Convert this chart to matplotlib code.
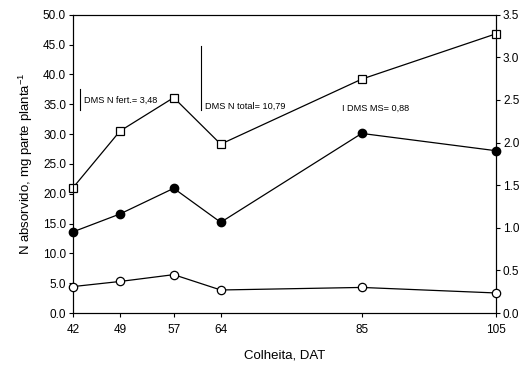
import matplotlib
matplotlib.use("Agg")
import matplotlib.pyplot as plt

plt.rcParams['font.family'] = ['Liberation Sans', 'DejaVu Sans']
plt.rcParams['mathtext.fontset'] = 'custom'
plt.rcParams['mathtext.rm'] = 'Liberation Sans'

dat = [42, 49, 57, 64, 85, 105]
n_total = [21.0, 30.5, 36.1, 28.3, 39.2, 46.8]
n_fert = [13.6, 16.6, 20.9, 15.2, 30.1, 27.2]
ms = [0.31, 0.37, 0.45, 0.27, 0.30, 0.235]

fig = plt.figure(figsize=(5.29, 3.68), dpi=100)
ax = fig.add_axes([73/529, 1 - 313/368, (496 - 73)/529, (313 - 14.7)/368])
ax2 = ax.twinx()

ax.plot(dat, n_total, color='black', lw=0.9, marker='s', ms=5.5, mfc='white', mec='black', mew=0.9, zorder=3, clip_on=False)
ax.plot(dat, n_fert, color='black', lw=0.9, marker='o', ms=6, mfc='black', mec='black', zorder=3, clip_on=False)
ax2.plot(dat, ms, color='black', lw=0.9, marker='o', ms=6, mfc='white', mec='black', mew=0.9, zorder=3, clip_on=False)

ax.set_xlim(42, 105)
ax.set_ylim(0, 50)
ax2.set_ylim(0, 3.5)
ax.set_xticks(dat)
ax.set_yticks([i * 5 for i in range(11)])
ax.set_yticklabels([f"{i*5:.1f}" for i in range(11)])
ax2.set_yticks([i * 0.5 for i in range(8)])
ax2.set_yticklabels([f"{i*0.5:.1f}" for i in range(8)])

for a in (ax, ax2):
    a.tick_params(direction='out', length=3, width=0.8, labelsize=8.5, pad=2)
    for s in a.spines.values():
        s.set_linewidth(0.8)
ax.tick_params(axis='x', pad=5)

ax.set_xlabel("Colheita, DAT", fontsize=9.5, labelpad=10)
ax.set_ylabel("N absorvido, mg parte planta$^{\\mathrm{-1}}$", fontsize=9.5, labelpad=6)

# DMS bars and labels
ax.plot([43.0, 43.0], [34.0, 37.5], color='black', lw=0.8, clip_on=False)
ax.text(43.6, 35.7, "DMS N fert.= 3,48", fontsize=6.6, va='center', ha='left')
ax.plot([61.1, 61.1], [34.0, 44.8], color='black', lw=0.8, clip_on=False)
ax.text(61.7, 34.6, "DMS N total= 10,79", fontsize=6.6, va='center', ha='left')
ax.text(82.0, 34.3, "I DMS MS= 0,88", fontsize=6.6, va='center', ha='left')

fig.savefig("out.png", dpi=100)
